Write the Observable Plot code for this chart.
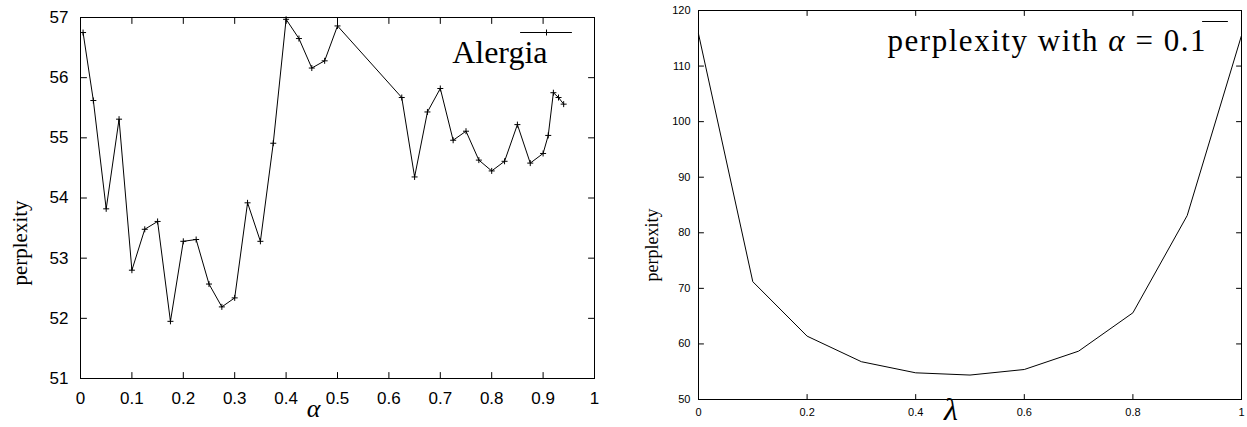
<!DOCTYPE html>
<html><head><meta charset="utf-8">
<script src="https://cdn.jsdelivr.net/npm/d3@7"></script>
<script src="https://cdn.jsdelivr.net/npm/@observablehq/plot@0.6"></script>
<style>
body{margin:0;background:#fff;}
#wrap{position:relative;width:1247px;height:427px;overflow:hidden;background:#fff;}
#left{position:absolute;left:0;top:0;}
#right{position:absolute;left:620px;top:0;}
</style></head><body>
<div id="wrap"><div id="left"></div><div id="right"></div></div>
<script>
// ---- data ----
const alphaValues = [0.005, 0.025, 0.05, 0.075, 0.1, 0.125, 0.15, 0.175, 0.2, 0.225, 0.25, 0.275, 0.3, 0.325, 0.35, 0.375, 0.4, 0.425, 0.45, 0.475, 0.5, 0.625, 0.65, 0.675, 0.7, 0.725, 0.75, 0.775, 0.8, 0.825, 0.85, 0.875, 0.9, 0.91, 0.92, 0.93, 0.94];
const alergiaPerplexity = [56.75, 55.62, 53.82, 55.31, 52.80, 53.48, 53.61, 51.95, 53.28, 53.31, 52.57, 52.19, 52.34, 53.92, 53.28, 54.91, 56.97, 56.65, 56.16, 56.28, 56.86, 55.67, 54.35, 55.43, 55.82, 54.96, 55.11, 54.63, 54.45, 54.61, 55.22, 54.58, 54.74, 55.04, 55.75, 55.67, 55.56];
const lambdaValues = [0, 0.1, 0.2, 0.3, 0.4, 0.5, 0.6, 0.7, 0.8, 0.9, 1];
const lambdaPerplexity = [115.8, 71.2, 61.4, 56.8, 54.8, 54.4, 55.4, 58.7, 65.6, 83.1, 115.5];
const alphaTicks = [0, 0.1, 0.2, 0.3, 0.4, 0.5, 0.6, 0.7, 0.8, 0.9, 1];
const leftYTicks = [51, 52, 53, 54, 55, 56, 57];
const lambdaTicks = [0, 0.2, 0.4, 0.6, 0.8, 1];
const rightYTicks = [50, 60, 70, 80, 90, 100, 110, 120];
const leftLegend = "Alergia";
const rightLegend = "perplexity with α = 0.1";
const leftXLabel = "α";
const rightXLabel = "λ";
const yLabel = "perplexity";

// ---- helpers ----
const tickShape = {draw(ctx, l) { ctx.moveTo(0, 0); ctx.lineTo(0, -l); }};
const lineShape = tickShape;
const crossSymbol = {draw(ctx, size) { const r = Math.sqrt(size / Math.PI); ctx.moveTo(-r, 0); ctx.lineTo(r, 0); ctx.moveTo(0, -r); ctx.lineTo(0, r); }};
const fmt = d => String(d);

function frameTicks(xt, yt, len) {
  const o = {stroke: "black", strokeWidth: 1, length: len, anchor: "start", shape: tickShape};
  return [
    Plot.vector(xt, {...o, x: d => d, frameAnchor: "bottom", rotate: 0}),
    Plot.vector(xt, {...o, x: d => d, frameAnchor: "top", rotate: 180}),
    Plot.vector(yt, {...o, y: d => d, frameAnchor: "left", rotate: 90}),
    Plot.vector(yt, {...o, y: d => d, frameAnchor: "right", rotate: -90})
  ];
}

const leftData = alphaValues.map((a, i) => ({alpha: a, perplexity: alergiaPerplexity[i]}));
const rightData = lambdaValues.map((l, i) => ({lambda: l, perplexity: lambdaPerplexity[i]}));

// ---- left chart ----
const left = Plot.plot({
  width: 620, height: 427,
  marginLeft: 80, marginRight: 26, marginTop: 17, marginBottom: 49,
  style: {background: "white", color: "black", fontFamily: "Liberation Sans, Arial, sans-serif", overflow: "visible"},
  x: {domain: [0, 1]},
  y: {domain: [51, 57]},
  marks: [
    Plot.frame({stroke: "black", strokeWidth: 1}),
    ...frameTicks(alphaTicks, leftYTicks, 6),
    Plot.axisX(alphaTicks, {tickSize: 0, tickPadding: 13, fontSize: 17, tickFormat: fmt, label: null}),
    Plot.axisY(leftYTicks, {tickSize: 0, tickPadding: 12, fontSize: 17, tickFormat: fmt, label: null}),
    Plot.line(leftData, {x: "alpha", y: "perplexity", stroke: "black", strokeWidth: 1}),
    Plot.dot(leftData, {x: "alpha", y: "perplexity", symbol: crossSymbol, r: 3, stroke: "black", strokeWidth: 1, fill: "none"}),
    Plot.vector([leftLegend], {frameAnchor: "top-right", dx: -23, dy: 15, rotate: -90, length: 51, anchor: "start", shape: lineShape, stroke: "black", strokeWidth: 1}),
    Plot.dot([leftLegend], {frameAnchor: "top-right", dx: -48, dy: 15, symbol: crossSymbol, r: 3, stroke: "black", strokeWidth: 1, fill: "none"}),
    Plot.text([leftLegend], {text: d => d, frameAnchor: "top-right", dx: -47, dy: 45, textAnchor: "end", lineAnchor: "bottom", fontSize: 32, fontFamily: "Liberation Serif, Times New Roman, serif", fill: "black"}),
    Plot.text([leftXLabel], {text: d => d, frameAnchor: "bottom", dx: -24, dy: 38, lineAnchor: "bottom", fontSize: 26, fontStyle: "italic", fontFamily: "Liberation Serif, serif", fill: "black"}),
    Plot.text([yLabel], {text: d => d, frameAnchor: "left", dx: -60, dy: 45, rotate: -90, textAnchor: "middle", lineAnchor: "middle", fontSize: 21, fontFamily: "Liberation Serif, serif", fill: "black"})
  ]
});
document.getElementById("left").appendChild(left);

// ---- right chart ----
const right = Plot.plot({
  width: 627, height: 427,
  marginLeft: 78, marginRight: 6, marginTop: 10, marginBottom: 28,
  style: {background: "white", color: "black", fontFamily: "Liberation Sans, Arial, sans-serif", overflow: "visible"},
  x: {domain: [0, 1]},
  y: {domain: [50, 120]},
  marks: [
    Plot.frame({stroke: "black", strokeWidth: 1}),
    ...frameTicks(lambdaTicks, rightYTicks, 5),
    Plot.axisX(lambdaTicks, {tickSize: 0, tickPadding: 9, fontSize: 11, tickFormat: fmt, label: null}),
    Plot.axisY(rightYTicks, {tickSize: 0, tickPadding: 8, fontSize: 11, tickFormat: fmt, label: null}),
    Plot.line(rightData, {x: "lambda", y: "perplexity", stroke: "black", strokeWidth: 1}),
    Plot.vector([rightLegend], {frameAnchor: "top-right", dx: -14, dy: 11, rotate: -90, length: 25, anchor: "start", shape: lineShape, stroke: "black", strokeWidth: 1}),
    Plot.text([rightLegend], {text: d => d, frameAnchor: "top-right", dx: -36, dy: 40, textAnchor: "end", lineAnchor: "bottom", fontSize: 31, fontFamily: "Liberation Serif, Times New Roman, serif", fill: "black"}),
    Plot.text([rightXLabel], {text: d => d, frameAnchor: "bottom", dx: -19, dy: 20, lineAnchor: "bottom", fontSize: 32, fontStyle: "italic", fontFamily: "Liberation Serif, serif", fill: "black"}),
    Plot.text([yLabel], {text: d => d, frameAnchor: "left", dx: -46, dy: 40, rotate: -90, textAnchor: "middle", lineAnchor: "middle", fontSize: 18, fontFamily: "Liberation Serif, serif", fill: "black"})
  ]
});
document.getElementById("right").appendChild(right);

// italic alpha inside the right legend, and TeX-like width
d3.select(right).selectAll("text").filter(function () { return this.textContent === rightLegend; }).each(function () {
  const t = d3.select(this);
  const parts = rightLegend.split("α");
  t.text(null);
  t.append("tspan").text(parts[0]);
  t.append("tspan").attr("font-style", "italic").text("α");
  t.append("tspan").text(parts[1]);
  t.attr("textLength", 318).attr("lengthAdjust", "spacing");
});
</script>
</body></html>
